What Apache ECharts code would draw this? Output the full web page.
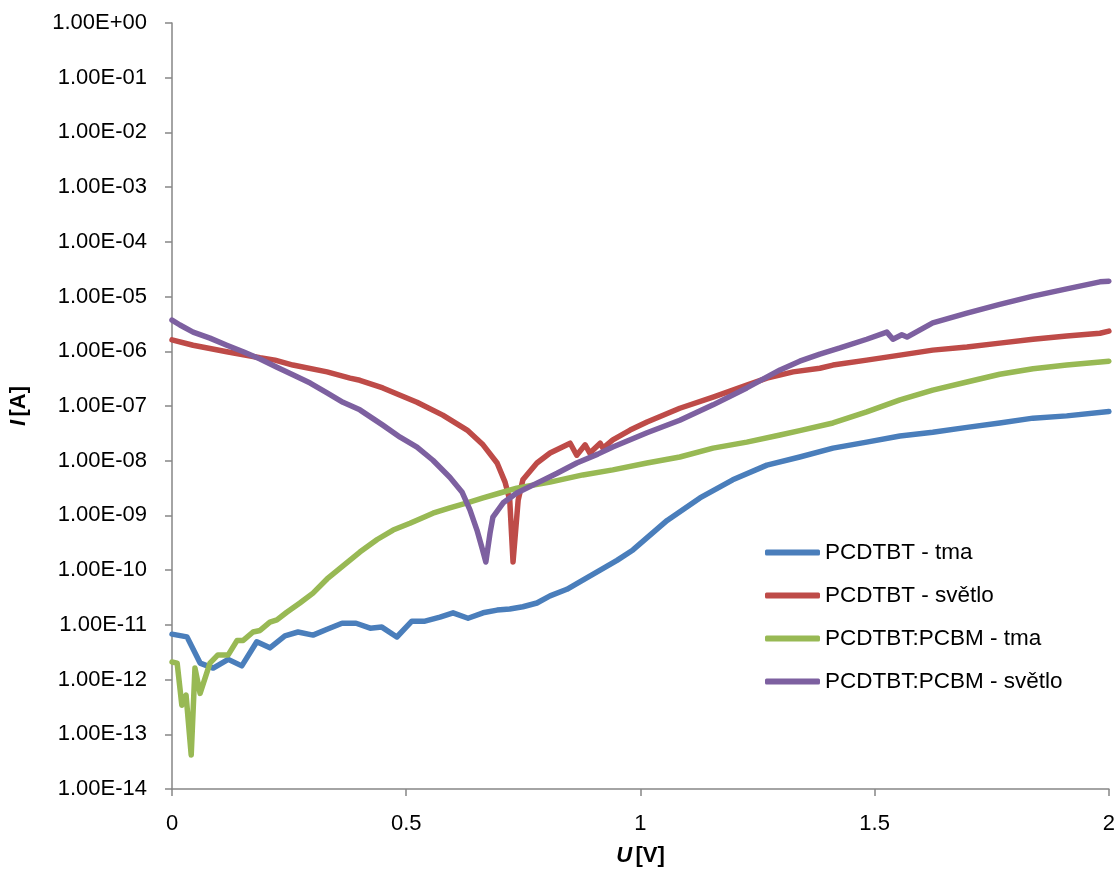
<!DOCTYPE html>
<html>
<head>
<meta charset="utf-8">
<script src="https://cdn.jsdelivr.net/npm/echarts@6/dist/echarts.min.js"></script>
<style>
html,body{margin:0;padding:0;background:#fff;}
#chart{width:1118px;height:876px;}
</style>
</head>
<body>
<div id="chart"></div>
<script>
// Series names
const seriesNames = ['PCDTBT - tma', 'PCDTBT - světlo', 'PCDTBT:PCBM - tma', 'PCDTBT:PCBM - světlo'];
const seriesColors = ['#4A7EBB', '#BE4B48', '#98B954', '#7D60A0'];
const xTicks = [0, 0.5, 1, 1.5, 2];

// PCDTBT - tma
const uBlue = [0.000,0.032,0.060,0.088,0.120,0.149,0.181,0.209,0.241,0.269,0.301,0.331,0.363,0.393,0.423,0.448,0.480,0.512,0.540,0.572,0.600,0.632,0.664,0.694,0.721,0.749,0.779,0.807,0.843,0.877,0.914,0.950,0.984,1.057,1.127,1.197,1.270,1.340,1.411,1.483,1.554,1.624,1.697,1.767,1.838,1.910,2.000];
const iBlue = [6.76e-12,6.03e-12,2.0e-12,1.62e-12,2.34e-12,1.78e-12,4.9e-12,3.8e-12,6.3e-12,7.4e-12,6.5e-12,8.3e-12,1.07e-11,1.07e-11,8.7e-12,9.1e-12,6.0e-12,1.17e-11,1.17e-11,1.38e-11,1.66e-11,1.32e-11,1.66e-11,1.86e-11,1.95e-11,2.14e-11,2.51e-11,3.39e-11,4.47e-11,6.6e-11,1.0e-10,1.51e-10,2.34e-10,8.1e-10,2.09e-9,4.47e-9,8.3e-9,1.17e-8,1.70e-8,2.19e-8,2.82e-8,3.31e-8,4.07e-8,4.9e-8,6.0e-8,6.6e-8,7.9e-8];

// PCDTBT - světlo
const uRed = [0.000,0.045,0.117,0.188,0.220,0.258,0.331,0.380,0.401,0.450,0.523,0.578,0.630,0.664,0.694,0.711,0.721,0.728,0.739,0.749,0.779,0.807,0.850,0.864,0.882,0.892,0.914,0.920,0.941,0.978,1.014,1.084,1.155,1.227,1.270,1.326,1.383,1.411,1.483,1.554,1.624,1.697,1.767,1.838,1.910,1.981,2.000];
const iRed = [1.62e-6,1.29e-6,9.8e-7,7.6e-7,6.9e-7,5.6e-7,4.2e-7,3.24e-7,2.95e-7,2.14e-7,1.17e-7,6.8e-8,3.63e-8,1.95e-8,9.1e-9,4.07e-9,1.91e-9,1.41e-10,1.91e-9,4.47e-9,9.1e-9,1.38e-8,2.09e-8,1.26e-8,1.95e-8,1.38e-8,2.09e-8,1.70e-8,2.40e-8,3.63e-8,5.1e-8,9.1e-8,1.45e-7,2.40e-7,3.24e-7,4.2e-7,4.9e-7,5.6e-7,6.9e-7,8.5e-7,1.05e-6,1.20e-6,1.41e-6,1.66e-6,1.91e-6,2.14e-6,2.34e-6];

// PCDTBT:PCBM - tma
const uGreen = [0.000,0.011,0.021,0.030,0.041,0.049,0.060,0.081,0.098,0.120,0.139,0.152,0.173,0.188,0.209,0.224,0.245,0.273,0.301,0.331,0.365,0.401,0.438,0.472,0.508,0.540,0.557,0.593,0.630,0.664,0.700,0.736,0.807,0.877,0.941,1.014,1.084,1.155,1.227,1.298,1.340,1.411,1.483,1.554,1.624,1.697,1.767,1.838,1.910,2.000];
const iGreen = [2.09e-12,2.0e-12,3.39e-13,5.2e-13,4.17e-14,1.62e-12,5.6e-13,2.0e-12,2.82e-12,2.82e-12,5.2e-12,5.2e-12,7.4e-12,7.9e-12,1.12e-11,1.23e-11,1.70e-11,2.51e-11,3.8e-11,6.9e-11,1.20e-10,2.14e-10,3.63e-10,5.4e-10,7.2e-10,9.5e-10,1.10e-9,1.38e-9,1.70e-9,2.09e-9,2.57e-9,3.16e-9,4.07e-9,5.5e-9,6.8e-9,9.1e-9,1.17e-8,1.70e-8,2.19e-8,2.95e-8,3.55e-8,4.9e-8,7.8e-8,1.29e-7,1.95e-7,2.75e-7,3.8e-7,4.8e-7,5.6e-7,6.6e-7];

// PCDTBT:PCBM - světlo
const uPurple = [0.000,0.017,0.045,0.081,0.117,0.152,0.188,0.224,0.258,0.295,0.331,0.365,0.401,0.450,0.487,0.523,0.557,0.593,0.619,0.636,0.651,0.662,0.670,0.679,0.685,0.707,0.736,0.779,0.822,0.864,0.909,0.941,1.014,1.084,1.155,1.227,1.298,1.340,1.383,1.426,1.483,1.526,1.539,1.558,1.569,1.624,1.697,1.767,1.838,1.910,1.981,2.000];
const iPurple = [3.72e-6,3.02e-6,2.24e-6,1.74e-6,1.29e-6,9.8e-7,7.2e-7,5.1e-7,3.72e-7,2.63e-7,1.74e-7,1.17e-7,8.5e-8,4.47e-8,2.69e-8,1.78e-8,1.02e-8,5.0e-9,2.69e-9,1.26e-9,5.4e-10,2.51e-10,1.41e-10,4.8e-10,9.3e-10,1.70e-9,2.57e-9,3.89e-9,5.9e-9,9.1e-9,1.32e-8,1.78e-8,3.24e-8,5.5e-8,1.05e-7,2.14e-7,4.57e-7,6.6e-7,8.9e-7,1.15e-6,1.66e-6,2.24e-6,1.66e-6,2.0e-6,1.82e-6,3.31e-6,5.0e-6,7.2e-6,1.02e-5,1.38e-5,1.86e-5,1.91e-5];

const allU = [uBlue, uRed, uGreen, uPurple];
const allI = [iBlue, iRed, iGreen, iPurple];

function zip(u, i) { return u.map((x, k) => [x, i[k]]); }

function fmtExp(v) {
  const e = Math.round(Math.log10(v));
  return '1.00E' + (e >= 0 ? '+' : '-') + String(Math.abs(e)).padStart(2, '0');
}

const FONT = 'Liberation Sans';
const chart = echarts.init(document.getElementById('chart'), null, {renderer: 'canvas'});
chart.setOption({
  backgroundColor: '#ffffff',
  animation: false,
  grid: {left: 172, right: 9, top: 23, bottom: 87, containLabel: false},
  legend: {
    orient: 'vertical',
    left: 760,
    top: 536,
    icon: 'roundRect',
    itemWidth: 55,
    itemHeight: 6,
    itemGap: 20,
    data: seriesNames,
    textStyle: {fontFamily: FONT, fontSize: 22.5, color: '#000', lineHeight: 22}
  },
  xAxis: {
    type: 'value',
    min: 0,
    max: 2,
    interval: 0.5,
    name: '{i|U} {b|[V]}',
    nameLocation: 'middle',
    nameGap: 56,
    nameTextStyle: {
      rich: {
        i: {fontFamily: FONT, fontSize: 22, fontWeight: 'bold', fontStyle: 'italic', color: '#000'},
        b: {fontFamily: FONT, fontSize: 22, fontWeight: 'bold', color: '#000'}
      }
    },
    axisLine: {show: true, lineStyle: {color: '#868686', width: 1.5}},
    axisTick: {show: true, inside: false, length: 7, lineStyle: {color: '#868686', width: 1.5}},
    axisLabel: {fontFamily: FONT, fontSize: 22, color: '#000', margin: 24,
      formatter: v => xTicks.includes(v) ? String(v) : ''},
    splitLine: {show: false}
  },
  yAxis: {
    type: 'log',
    logBase: 10,
    min: 1e-14,
    max: 1,
    interval: 1,
    name: '{i|I} {b|[A]}',
    nameLocation: 'middle',
    nameGap: 142,
    nameRotate: 90,
    nameTextStyle: {
      rich: {
        i: {fontFamily: FONT, fontSize: 22, fontWeight: 'bold', fontStyle: 'italic', color: '#000'},
        b: {fontFamily: FONT, fontSize: 22, fontWeight: 'bold', color: '#000'}
      }
    },
    axisLine: {show: true, lineStyle: {color: '#868686', width: 1.5}},
    axisTick: {show: true, inside: false, length: 7, lineStyle: {color: '#868686', width: 1.5}},
    axisLabel: {fontFamily: FONT, fontSize: 22, color: '#000', margin: 25, formatter: fmtExp},
    splitLine: {show: false},
    minorTick: {show: false}
  },
  series: seriesNames.map((name, k) => ({
    name: name,
    type: 'line',
    data: zip(allU[k], allI[k]),
    symbol: 'none',
    showSymbol: false,
    smooth: false,
    color: seriesColors[k],
    lineStyle: {color: seriesColors[k], width: 5.5, cap: 'round', join: 'round'},
    itemStyle: {color: seriesColors[k]},
    z: 2 + k
  }))
});
</script>
</body>
</html>
